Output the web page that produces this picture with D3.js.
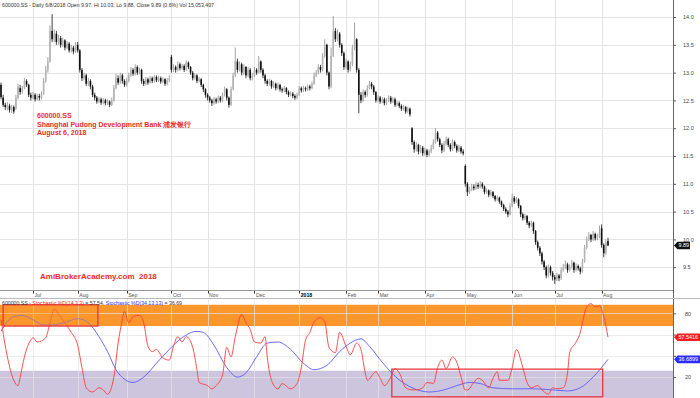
<!DOCTYPE html>
<html>
<head>
<meta charset="utf-8">
<script src="https://cdn.jsdelivr.net/npm/d3@7"></script>
<style>
  body { margin: 0; background: #fff; }
  svg { display: block; font-family: "Liberation Sans", Arial, sans-serif; }
</style>
</head>
<body>
<svg id="chart" width="700" height="398"></svg>
<script>
// daily bars, 12 Jun 2017 .. 6 Aug 2018 (one entry per trading day)
const opens = [
  12.78,12.55,12.42,12.36,12.40,12.32,12.38,12.35,12.55,12.72,
  12.66,12.72,12.85,12.78,12.60,12.55,12.60,12.52,12.58,12.55,
  12.62,12.85,13.05,13.20,13.75,13.60,13.70,13.55,13.62,13.50,
  13.58,13.45,13.52,13.40,13.45,13.38,13.50,13.40,13.05,12.90,
  12.95,12.80,12.85,12.75,12.60,12.55,12.48,12.52,12.46,12.50,
  12.45,12.48,12.42,12.50,12.72,12.90,12.82,12.95,12.85,12.78,
  12.85,12.95,13.05,12.98,13.10,13.00,13.05,12.85,12.80,12.88,
  12.82,12.90,12.85,12.92,12.86,12.90,12.84,12.88,12.80,12.86,
  13.28,13.05,13.10,13.05,13.15,13.08,13.12,13.05,13.18,13.10,
  13.00,12.90,12.95,12.85,12.88,12.78,12.70,12.60,12.55,12.50,
  12.45,12.52,12.48,12.55,12.50,12.60,12.70,12.55,12.42,12.70,
  12.95,13.20,13.05,13.15,13.00,13.10,12.95,13.05,12.90,12.95,
  13.05,13.00,13.20,13.05,12.95,12.85,12.80,12.85,12.75,12.80,
  12.72,12.78,12.70,12.68,12.72,12.65,12.60,12.62,12.58,12.55,
  12.60,12.72,12.68,12.72,12.70,12.75,12.72,12.80,12.95,13.00,
  13.10,13.05,13.30,13.50,13.00,12.75,13.30,13.75,13.60,13.70,
  13.50,13.35,13.10,13.20,13.05,13.15,13.45,13.60,13.05,12.60,
  12.50,12.65,12.60,12.72,12.80,12.75,12.65,12.50,12.55,12.48,
  12.52,12.45,12.50,12.55,12.48,12.52,12.42,12.45,12.40,12.35,
  12.38,12.30,12.35,12.00,11.75,11.62,11.70,11.58,11.65,11.55,
  11.60,11.52,11.58,11.65,11.75,11.92,11.80,11.70,11.60,11.72,
  11.80,11.70,11.62,11.75,11.68,11.60,11.65,11.58,11.32,11.00,
  10.85,10.90,10.95,10.92,10.98,10.95,11.00,10.95,10.85,10.88,
  10.80,10.85,10.78,10.72,10.75,10.68,10.62,10.55,10.50,10.45,
  10.60,10.75,10.68,10.72,10.60,10.45,10.38,10.42,10.30,10.25,
  10.30,10.15,9.95,9.85,9.75,9.60,9.50,9.35,9.50,9.40,
  9.32,9.28,9.35,9.30,9.45,9.50,9.55,9.45,9.50,9.58,
  9.45,9.52,9.48,9.42,9.60,9.85,10.00,10.08,10.00,10.10,
  10.02,10.05,10.20,9.90,9.75,9.97
];
const highs = [
  12.82,12.60,12.46,12.47,12.44,12.42,12.41,12.60,12.80,12.78,
  12.76,12.90,12.88,12.80,12.64,12.65,12.63,12.62,12.62,12.66,
  12.90,13.12,13.28,13.85,14.05,13.78,13.75,13.68,13.66,13.63,
  13.60,13.57,13.55,13.50,13.48,13.55,13.55,13.42,13.08,13.00,
  12.98,12.90,12.88,12.78,12.64,12.58,12.56,12.55,12.54,12.53,
  12.52,12.50,12.55,12.78,12.98,12.95,13.00,12.98,12.88,12.90,
  13.00,13.10,13.08,13.15,13.13,13.09,13.07,12.89,12.92,12.91,
  12.94,12.93,12.96,12.95,12.94,12.93,12.92,12.90,12.90,12.95,
  13.32,13.15,13.13,13.20,13.18,13.16,13.15,13.22,13.20,13.12,
  13.03,12.99,12.97,12.92,12.90,12.80,12.72,12.63,12.58,12.53,
  12.56,12.55,12.59,12.58,12.64,12.75,12.72,12.57,12.75,13.00,
  13.45,13.25,13.20,13.18,13.15,13.12,13.10,13.08,13.00,13.10,
  13.08,13.30,13.22,13.08,12.98,12.88,12.89,12.87,12.84,12.82,
  12.82,12.80,12.73,12.76,12.74,12.68,12.66,12.65,12.61,12.64,
  12.76,12.75,12.76,12.75,12.79,12.78,12.84,13.00,13.05,13.15,
  13.14,13.35,13.60,13.52,13.02,13.45,14.02,13.80,13.78,13.73,
  13.53,13.38,13.25,13.22,13.20,13.50,13.90,13.62,13.08,12.65,
  12.70,12.68,12.77,12.85,12.83,12.78,12.67,12.59,12.58,12.56,
  12.55,12.54,12.59,12.58,12.56,12.55,12.49,12.48,12.43,12.42,
  12.40,12.39,12.37,12.02,11.78,11.75,11.72,11.70,11.68,11.65,
  11.63,11.62,11.70,11.80,12.00,11.95,11.83,11.73,11.77,11.85,
  11.83,11.73,11.80,11.78,11.71,11.70,11.68,11.62,11.35,11.03,
  10.95,11.00,10.99,11.03,11.02,11.05,11.03,10.97,10.92,10.90,
  10.89,10.87,10.80,10.79,10.77,10.70,10.64,10.58,10.53,10.65,
  10.82,10.78,10.76,10.74,10.62,10.48,10.46,10.44,10.33,10.34,
  10.32,10.17,9.98,9.88,9.78,9.63,9.53,9.55,9.53,9.43,
  9.36,9.40,9.38,9.50,9.56,9.62,9.58,9.55,9.63,9.60,
  9.57,9.55,9.51,9.65,9.90,10.05,10.13,10.10,10.15,10.12,
  10.10,10.25,10.27,9.93,10.00,10.03
];
const lows = [
  12.52,12.38,12.33,12.32,12.28,12.27,12.26,12.33,12.52,12.60,
  12.62,12.70,12.74,12.56,12.50,12.52,12.48,12.50,12.50,12.52,
  12.60,12.82,13.00,13.18,13.55,13.55,13.50,13.50,13.45,13.46,
  13.40,13.42,13.36,13.36,13.33,13.35,13.36,13.00,12.85,12.86,
  12.76,12.76,12.70,12.56,12.50,12.44,12.45,12.42,12.43,12.41,
  12.42,12.38,12.40,12.48,12.70,12.78,12.80,12.80,12.74,12.75,
  12.82,12.92,12.94,12.95,12.96,12.97,12.80,12.76,12.77,12.78,
  12.80,12.81,12.82,12.83,12.83,12.80,12.81,12.76,12.77,12.83,
  13.00,13.01,13.00,13.02,13.04,13.05,13.01,13.03,13.06,12.96,
  12.86,12.87,12.81,12.82,12.74,12.65,12.55,12.50,12.46,12.40,
  12.42,12.44,12.45,12.46,12.47,12.57,12.50,12.37,12.40,12.68,
  12.92,13.00,13.02,12.95,12.96,12.90,12.92,12.86,12.86,12.92,
  12.96,12.98,13.00,12.90,12.80,12.76,12.77,12.71,12.72,12.68,
  12.69,12.66,12.64,12.65,12.61,12.56,12.57,12.54,12.51,12.52,
  12.58,12.64,12.65,12.66,12.67,12.68,12.70,12.78,12.92,12.97,
  13.00,13.02,13.27,12.95,12.70,12.72,13.28,13.55,13.56,13.45,
  13.30,13.05,13.06,13.00,13.02,13.12,13.40,13.00,12.27,12.45,
  12.47,12.55,12.57,12.70,12.70,12.60,12.46,12.47,12.44,12.45,
  12.41,12.42,12.47,12.44,12.45,12.38,12.39,12.36,12.31,12.32,
  12.26,12.27,12.21,11.70,11.56,11.58,11.53,11.55,11.50,11.51,
  11.48,11.49,11.55,11.62,11.72,11.76,11.66,11.55,11.57,11.69,
  11.66,11.58,11.59,11.64,11.56,11.57,11.54,11.51,10.95,10.78,
  10.82,10.87,10.88,10.89,10.91,10.92,10.91,10.81,10.82,10.76,
  10.77,10.74,10.68,10.69,10.64,10.58,10.51,10.46,10.40,10.43,
  10.58,10.64,10.65,10.56,10.40,10.34,10.35,10.26,10.20,10.22,
  10.10,9.90,9.80,9.70,9.55,9.45,9.30,9.32,9.35,9.26,
  9.20,9.25,9.25,9.27,9.42,9.47,9.40,9.42,9.47,9.40,
  9.42,9.44,9.37,9.40,9.58,9.82,9.97,9.95,9.97,9.98,
  9.99,10.02,9.85,9.68,9.72,9.88
];
const closes = [
  12.56,12.42,12.38,12.42,12.33,12.38,12.30,12.55,12.75,12.65,
  12.72,12.85,12.78,12.60,12.55,12.60,12.52,12.58,12.55,12.62,
  12.85,13.05,13.20,13.75,13.60,13.70,13.55,13.62,13.50,13.58,
  13.45,13.52,13.40,13.45,13.38,13.50,13.40,13.05,12.90,12.95,
  12.80,12.85,12.75,12.60,12.55,12.48,12.52,12.46,12.50,12.45,
  12.48,12.42,12.50,12.72,12.90,12.82,12.95,12.85,12.78,12.85,
  12.95,13.05,12.98,13.10,13.00,13.05,12.85,12.80,12.88,12.82,
  12.90,12.85,12.92,12.86,12.90,12.84,12.88,12.80,12.86,12.90,
  13.05,13.10,13.05,13.15,13.08,13.12,13.05,13.18,13.10,13.00,
  12.90,12.95,12.85,12.88,12.78,12.70,12.60,12.55,12.50,12.45,
  12.52,12.48,12.55,12.50,12.60,12.70,12.55,12.42,12.70,12.95,
  13.20,13.05,13.15,13.00,13.10,12.95,13.05,12.90,12.95,13.05,
  13.00,13.20,13.05,12.95,12.85,12.80,12.85,12.75,12.80,12.72,
  12.78,12.70,12.68,12.72,12.65,12.60,12.62,12.58,12.55,12.60,
  12.72,12.68,12.72,12.70,12.75,12.72,12.80,12.95,13.00,13.10,
  13.05,13.30,13.50,13.00,12.75,13.30,13.75,13.60,13.70,13.50,
  13.35,13.10,13.20,13.05,13.15,13.45,13.60,13.05,12.60,12.50,
  12.65,12.60,12.72,12.80,12.75,12.65,12.50,12.55,12.48,12.52,
  12.45,12.50,12.55,12.48,12.52,12.42,12.45,12.40,12.35,12.38,
  12.30,12.35,12.25,11.75,11.62,11.70,11.58,11.65,11.55,11.60,
  11.52,11.58,11.65,11.75,11.92,11.80,11.70,11.60,11.72,11.80,
  11.70,11.62,11.75,11.68,11.60,11.65,11.58,11.55,11.00,10.85,
  10.90,10.95,10.92,10.98,10.95,11.00,10.95,10.85,10.88,10.80,
  10.85,10.78,10.72,10.75,10.68,10.62,10.55,10.50,10.45,10.60,
  10.75,10.68,10.72,10.60,10.45,10.38,10.42,10.30,10.25,10.30,
  10.15,9.95,9.85,9.75,9.60,9.50,9.35,9.50,9.40,9.32,
  9.28,9.35,9.30,9.45,9.50,9.55,9.45,9.50,9.58,9.45,
  9.52,9.48,9.42,9.60,9.85,10.00,10.08,10.00,10.10,10.02,
  10.05,10.12,9.90,9.75,9.95,9.89
];

// first trading day of each month (index into the arrays above) and its label
const monthStarts = [15, 36, 59, 80, 97, 119, 140, 162, 177, 199, 218, 240, 260, 282];
const monthLabels = ["Jul", "Aug", "Sep", "Oct", "Nov", "Dec", "2018", "Feb", "Mar", "Apr", "May", "Jun", "Jul", "Aug"];
const priceTicks = [9.5, 10, 10.5, 11, 11.5, 12, 12.5, 13, 13.5, 14];
const stochTicks = [20, 40, 60, 80];
const stochLabelTicks = [20, 80]; // 40 and 60 sit under the value tags

// Stochastic %D(14,3,3) and %D(34,13,13), as [day, value]
const stochFast = [
  [0,74],[3,39],[6,17],[8,12],[9,20],[11,39],[14,55],[15,57],[17,53],[21,57],[23,71],[25,84],[27,79],
  [30,71],[33,62],[36,50],[38,29],[40,10],[43,6],[46,10],[48,8],[50,4],[53,20],[55,52],[57,74],[58,82],
  [60,71],[62,77],[65,78],[67,71],[69,49],[71,44],[73,46],[76,38],[79,36],[81,49],[83,58],[85,53],[87,58],
  [90,48],[92,27],[93,15],[97,12],[99,9],[101,12],[104,22],[106,48],[108,39],[110,58],[113,79],[115,71],
  [117,65],[119,53],[122,52],[124,58],[125,39],[127,17],[130,9],[132,14],[136,9],[139,14],[141,29],[143,55],
  [145,62],[147,72],[150,76],[152,72],[154,48],[157,43],[159,62],[162,49],[164,41],[167,52],[169,46],[171,24],
  [172,17],[176,25],[178,19],[180,12],[183,20],[185,28],[187,24],[190,10],[193,8],[195,8],[198,10],[200,15],
  [203,14],[205,29],[207,36],[209,28],[212,39],[214,34],[216,20],[218,8],[219,8],[222,15],[224,19],[226,17],
  [229,10],[231,19],[233,25],[234,17],[238,17],[240,29],[242,46],[245,29],[247,15],[249,10],[252,12],[254,8],
  [257,4],[259,10],[261,9],[264,10],[266,24],[267,43],[270,53],[272,62],[273,71],[275,86],[277,89],[279,86],
  [281,87],[283,77],[285,57.54]
];
const stochSlow = [
  [0,63],[3,72],[6,77],[10,78],[15,74],[20,69],[24,69],[31,72],[36,75],[41,71],[46,58],[50,44],[54,27],
  [58,18],[62,15],[67,20],[73,33],[79,46],[85,57],[92,63],[95,62],[100,50],[106,29],[111,20],[115,24],
  [120,39],[125,52],[130,53],[136,46],[142,33],[147,27],[153,31],[159,44],[164,52],[169,56],[173,49],
  [179,34],[186,19],[193,10],[201,6],[208,8],[214,12],[220,15],[225,14],[231,10],[240,9],[250,9],[259,8],
  [266,7],[272,10],[278,20],[285,36.69]
];
const overbought = [68, 88];
const oversold = [0, 26];
// highlighted zones: [day from, day to, value low, value high]
const zoneBoxes = [[1, 45.5, 68, 88], [183.5, 282.5, 1.5, 27.5]];

const plotR = 673;
const svg = d3.select("#chart");

const x = d3.scaleLinear().domain([0, 285]).range([1, 608]);
const yP = d3.scaleLinear().domain([9.09, 14.306]).range([290, 0]);
const yS = d3.scaleLinear().domain([0, 100]).range([398.4, 292]);

// ---------- grid (price panel) ----------
const grid = svg.append("g").attr("stroke", "#e4e4e4").attr("stroke-width", 1);
grid.selectAll(".hp").data(priceTicks).enter().append("line")
  .attr("x1", 0).attr("x2", plotR)
  .attr("y1", d => Math.round(yP(d)) + 0.5).attr("y2", d => Math.round(yP(d)) + 0.5);
grid.selectAll(".vt").data(monthStarts).enter().append("line")
  .attr("x1", d => Math.round(x(d)) + 0.5).attr("x2", d => Math.round(x(d)) + 0.5)
  .attr("y1", 0).attr("y2", 290);

// ---------- candles ----------
const days = d3.range(closes.length);
const candles = svg.append("g");
candles.selectAll("line").data(days).enter().append("line")
  .attr("x1", i => x(i)).attr("x2", i => x(i))
  .attr("y1", i => yP(highs[i])).attr("y2", i => yP(lows[i]))
  .attr("stroke", i => closes[i] >= opens[i] ? "#8c8c8c" : "#111")
  .attr("stroke-width", 0.8);
candles.selectAll("rect").data(days).enter().append("rect")
  .attr("x", i => x(i) - 0.8).attr("width", 1.6)
  .attr("y", i => yP(Math.max(opens[i], closes[i])))
  .attr("height", i => Math.max(0.8, Math.abs(yP(opens[i]) - yP(closes[i]))))
  .attr("fill", i => closes[i] >= opens[i] ? "#b4b4b4" : "#111");

// ---------- price axis ----------
const pAxis = svg.append("g").attr("transform", `translate(${plotR},0)`)
  .call(d3.axisRight(yP).tickValues(priceTicks).tickFormat(d3.format(".1f")).tickSize(3).tickPadding(7));
pAxis.select(".domain").remove();
pAxis.selectAll("line").attr("stroke", "#555");
pAxis.selectAll("text").attr("fill", "#444").style("font-size", "5.5px").style("font-family", "Liberation Sans, Arial");
svg.append("line").attr("x1", plotR + 0.5).attr("x2", plotR + 0.5).attr("y1", 0).attr("y2", 398)
  .attr("stroke", "#666");

// ---------- month strip ----------
svg.append("line").attr("x1", 0).attr("x2", plotR).attr("y1", 290.5).attr("y2", 290.5).attr("stroke", "#999");
svg.append("line").attr("x1", 0).attr("x2", 700).attr("y1", 298.5).attr("y2", 298.5).attr("stroke", "#bbb");
const months = svg.append("g");
months.selectAll("line").data(monthStarts).enter().append("line")
  .attr("x1", d => Math.round(x(d)) + 0.5).attr("x2", d => Math.round(x(d)) + 0.5)
  .attr("y1", 291).attr("y2", 293.5).attr("stroke", "#333");
months.selectAll("text").data(monthStarts).enter().append("text")
  .attr("x", d => x(d) + 1.5).attr("y", 296.5)
  .style("font-size", "5.2px")
  .attr("font-weight", (d, i) => monthLabels[i] === "2018" ? "bold" : "normal")
  .attr("fill", (d, i) => monthLabels[i] === "2018" ? "#000" : "#555")
  .text((d, i) => monthLabels[i]);

// ---------- stochastic panel ----------
svg.append("rect").attr("x", 0).attr("width", plotR)
  .attr("y", yS(overbought[1])).attr("height", yS(overbought[0]) - yS(overbought[1]))
  .attr("fill", "#f9962c");
svg.append("rect").attr("x", 0).attr("width", plotR)
  .attr("y", yS(oversold[1])).attr("height", yS(oversold[0]) - yS(oversold[1]))
  .attr("fill", "#cdc5dd");
const sgrid = svg.append("g").attr("stroke", "#e4e4e4").attr("stroke-opacity", 0.7);
sgrid.selectAll(".hs").data(stochTicks).enter().append("line")
  .attr("x1", 0).attr("x2", plotR)
  .attr("y1", d => Math.round(yS(d)) + 0.5).attr("y2", d => Math.round(yS(d)) + 0.5);
sgrid.selectAll(".vs").data(monthStarts).enter().append("line")
  .attr("x1", d => Math.round(x(d)) + 0.5).attr("x2", d => Math.round(x(d)) + 0.5)
  .attr("y1", 299).attr("y2", 398);

const path = d3.line().x(d => x(d[0])).y(d => yS(d[1])).curve(d3.curveMonotoneX);
svg.append("path").datum(stochSlow).attr("d", path)
  .attr("fill", "none").attr("stroke", "#5a5aff").attr("stroke-width", 0.9);
svg.append("path").datum(stochFast).attr("d", path)
  .attr("fill", "none").attr("stroke", "#ff3c3c").attr("stroke-width", 0.9);

svg.selectAll(".zone").data(zoneBoxes).enter().append("rect")
  .attr("x", d => x(d[0])).attr("width", d => x(d[1]) - x(d[0]))
  .attr("y", d => yS(d[3])).attr("height", d => yS(d[2]) - yS(d[3]))
  .attr("fill", (d, i) => i === 0 ? "rgba(249,150,44,0.45)" : "none")
  .attr("stroke", "#e8383d").attr("stroke-width", 1.3);

const sAxis = svg.append("g").attr("transform", `translate(${plotR},0)`)
  .call(d3.axisRight(yS).tickValues(stochTicks).tickSize(3).tickPadding(9)
    .tickFormat(d => stochLabelTicks.includes(d) ? d : ""));
sAxis.select(".domain").remove();
sAxis.selectAll("line").attr("stroke", "#555");
sAxis.selectAll("text").attr("fill", "#444").style("font-size", "5.5px").style("font-family", "Liberation Sans, Arial");

// ---------- value tags ----------
function tag(yc, label, bg, x0, x1) {
  svg.append("path")
    .attr("d", `M${x0},${yc} L${x0 + 3.5},${yc - 3.8} L${x1},${yc - 3.8} L${x1},${yc + 3.8} L${x0 + 3.5},${yc + 3.8} Z`)
    .attr("fill", bg);
  svg.append("text").attr("x", x0 + 4.5).attr("y", yc + 1.9)
    .attr("fill", "#fff").style("font-size", "5.4px").text(label);
}
tag(yP(closes[closes.length - 1]), "9.89", "#111", 674, 690);
tag(yS(stochFast[stochFast.length - 1][1]), "57.5416", "#f21d1d", 674, 700);
tag(yS(stochSlow[stochSlow.length - 1][1]), "36.6899", "#2b2bff", 674, 700);

// ---------- texts ----------
svg.append("text").attr("x", 2).attr("y", 6.5).attr("fill", "#333").style("font-size", "5.2px")
  .text("600000.SS - Daily 6/8/2018 Open 9.97, Hi 10.03, Lo 9.88, Close 9.89 (0.6%) Vol 15,053,497");

const legend = svg.append("text").attr("x", 2).attr("y", 305).style("font-size", "5.2px").attr("fill", "#333");
legend.append("tspan").text("600000.SS - ");
legend.append("tspan").attr("fill", "#f02020").text("Stochastic %D(14,3,3)");
legend.append("tspan").text(" = 57.54, ");
legend.append("tspan").attr("fill", "#3030ff").text("Stochastic %D(34,13,13)");
legend.append("tspan").text(" = 36.69");

const note = svg.append("g").attr("fill", "#ec2b2b").style("font-size", "7px").attr("font-weight", "bold");
note.append("text").attr("x", 37).attr("y", 118).text("600000.SS");
note.append("text").attr("x", 37).attr("y", 126.5).text("Shanghai Pudong Development Bank 浦发银行");
note.append("text").attr("x", 37).attr("y", 135).text("August 6, 2018");
svg.append("text").attr("x", 40).attr("y", 279).attr("fill", "#ec2b2b")
  .style("font-size", "8px").attr("font-weight", "bold").attr("xml:space", "preserve")
  .text("AmiBrokerAcademy.com  2018");
</script>
</body>
</html>
